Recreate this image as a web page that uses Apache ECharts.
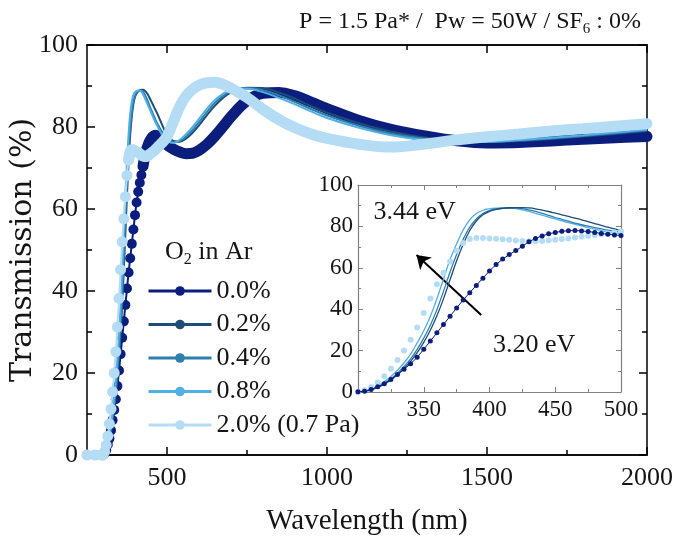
<!DOCTYPE html>
<html><head><meta charset="utf-8">
<script src="https://cdn.jsdelivr.net/npm/echarts@6/dist/echarts.min.js"></script>
<style>html,body{margin:0;padding:0;background:#fff}#c{width:679px;height:539px}</style>
</head><body><div id="c"></div>
<script>
// ---- data ----
const wavelength = [250,275,295,
 300,305,310,315,320,325,330,335,340,345,350,355,360,365,370,375,380,385,390,395,
 400,405,410,415,420,425,430,435,440,445,450,455,460,465,470,475,480,485,490,495,500,
 520,540,560,580,600,625,650,675,700,750,800,850,900,950,1000,1100,1200,1300,1400,1500,1600,1700,1800,1900,2000];

const o2_00 = [0,0,0,
 0.1,0.4,1.2,2.5,4.0,6.0,8.5,11.0,13.6,16.8,20.6,24.6,28.6,32.6,36.6,40.6,44.5,48.0,51.5,55.0,
 58.5,61.6,64.2,66.4,68.3,70.4,72.6,74.2,75.4,76.4,77.1,77.6,77.9,78.0,77.8,77.5,77.1,76.6,76.2,75.9,75.6,
 74.6,73.9,73.5,73.6,74.3,75.8,77.8,80.1,82.5,86.4,88.2,88.4,87.6,86.1,84.5,81.6,79.4,77.9,76.7,76.1,76.2,76.6,77.0,77.4,77.7];

const o2_02 = [0,0,0,
 0,0.3,1.0,2.2,3.8,5.8,8.3,11.3,14.8,19.0,24.0,29.8,36.8,45.0,54.2,63.4,71.4,78.0,82.6,85.6,
 87.3,88.2,88.7,89.0,89.1,89.1,88.9,88.5,87.9,87.2,86.4,85.6,84.8,84.0,83.2,82.3,81.4,80.5,79.6,78.8,78.0,
 76.6,76.4,77.2,78.6,80.4,82.9,85.2,87.1,88.4,89.6,89.5,88.4,86.9,85.1,83.5,80.9,78.9,77.5,76.7,76.4,76.6,77.1,77.7,78.3,79.0];

const o2_04 = [0,0,0,
 0,0.4,1.2,2.5,4.2,6.4,9.1,12.3,16.0,20.6,26.0,32.2,39.8,48.6,58.0,66.4,73.8,79.6,83.6,86.2,
 87.6,88.4,88.8,88.9,88.9,88.6,88.0,87.2,86.3,85.3,84.3,83.4,82.5,81.6,80.8,80.1,79.4,78.8,78.2,77.7,77.3,
 76.3,76.6,77.7,79.3,81.2,83.7,85.9,87.6,88.7,89.5,89.0,87.7,86.1,84.4,82.8,80.3,78.4,77.2,76.6,76.4,76.7,77.2,77.8,78.5,79.2];

const o2_08 = [0,0,0,
 0,0.5,1.5,3.0,5.0,7.5,10.5,14.0,18.3,23.7,29.6,36.5,45.0,54.6,64.0,71.5,78.3,83.2,86.2,87.8,
 88.5,88.8,88.9,88.9,88.6,88.0,87.2,86.3,85.4,84.5,83.6,82.7,81.8,81.0,80.2,79.4,78.7,78.0,77.4,76.9,76.5,
 76.1,76.9,78.3,80.0,82.0,84.5,86.6,88.1,89.0,89.3,88.5,87.1,85.5,83.8,82.2,79.8,78.0,76.9,76.4,76.4,76.8,77.4,78.0,78.7,79.4];

const o2_20 = [0,0,0,
 0,0.8,2.4,4.6,7.6,11.2,15.4,20.0,25.2,31.2,38.2,45.2,52.0,57.6,63.0,68.2,72.0,73.9,74.4,74.4,
 74.2,74.0,73.8,73.5,73.2,72.9,72.8,72.8,73.0,73.3,73.6,73.9,74.2,74.6,75.0,75.4,75.8,76.2,76.6,77.1,77.6,
 81.3,85.0,87.6,89.2,90.2,90.8,90.9,90.4,89.5,87.2,84.3,81.8,79.8,78.3,77.2,75.8,75.1,75.8,76.8,77.6,78.3,79.0,79.6,80.2,80.8];

const seriesNames = ['0.0%','0.2%','0.4%','0.8%','2.0% (0.7 Pa)'];
const mainXLabels = [500,1000,1500,2000];
const mainXMinor = [750,1250,1750];
const colors = ['#0b1e7e','#1e4d78','#2e7fae','#52afe6','#b5dcf5'];

// ---- helpers ----
function pairs(vals, lo, hi){
  return wavelength.map((w,i)=>[w, vals[i]]).filter(p=>p[0]>=lo && p[0]<=hi);
}
const SERIF = 'Liberation Serif';
const txt = '#151515';
const plain = v => String(v);

const mainAxisLine = {show:true, onZero:false, lineStyle:{color:'#000', width:1.5}};
const insetAxisLine = {show:true, onZero:false, lineStyle:{color:'#808080', width:1.2}};

function mainX(pos, custom, len, labels){
  return {type:'value', gridIndex:0, position:pos, min:250, max:2000,
    axisLine: mainAxisLine,
    axisTick:{show:true, inside:true, length:len, customValues:custom, lineStyle:{color:'#000', width:1.5}},
    axisLabel: labels ? {show:true, customValues:custom, formatter:plain, margin:10, fontFamily:SERIF, fontSize:26, color:txt} : {show:false},
    splitLine:{show:false}};
}
function mainY(pos, labels){
  return {type:'value', gridIndex:0, position:pos, min:0, max:100, interval:20,
    axisLine: mainAxisLine,
    axisTick:{show:true, inside:true, length:8, lineStyle:{color:'#000', width:1.5}},
    minorTick:{show:true, splitNumber:2, length:5, lineStyle:{color:'#000', width:1.5}},
    axisLabel: labels ? {show:true, formatter:plain, margin:9, fontFamily:SERIF, fontSize:26, color:txt} : {show:false},
    splitLine:{show:false}, minorSplitLine:{show:false}};
}
function insetX(pos, labels){
  return {type:'value', gridIndex:1, position:pos, min:300, max:500, interval:50,
    axisLine: insetAxisLine,
    axisTick:{show:true, inside:true, length:5, lineStyle:{color:'#808080'}},
    minorTick:{show:true, splitNumber:2, length:3, lineStyle:{color:'#808080'}},
    axisLabel: labels ? {show:true, showMinLabel:false, formatter:plain, margin:6, fontFamily:SERIF, fontSize:23, color:txt} : {show:false},
    splitLine:{show:false}, minorSplitLine:{show:false}};
}
function insetY(pos, labels){
  return {type:'value', gridIndex:1, position:pos, min:0, max:100, interval:20,
    axisLine: insetAxisLine,
    axisTick:{show:true, inside:true, length:5, lineStyle:{color:'#808080'}},
    minorTick:{show:true, splitNumber:2, length:3, lineStyle:{color:'#808080'}},
    axisLabel: labels ? {show:true, formatter:plain, margin:5, fontFamily:SERIF, fontSize:23, color:txt} : {show:false},
    splitLine:{show:false}, minorSplitLine:{show:false}};
}

const xAxis = [
  Object.assign(mainX('bottom', mainXLabels, 8, true), {name:'Wavelength (nm)', nameLocation:'middle', nameGap:52,
     nameTextStyle:{fontFamily:SERIF, fontSize:29, color:txt}}),
  mainX('bottom', mainXMinor, 5, false),
  mainX('top', mainXLabels, 8, false),
  mainX('top', mainXMinor, 5, false),
  insetX('bottom', true),
  insetX('top', false)
];
const yAxis = [
  Object.assign(mainY('left', true), {name:'Transmission (%)', nameLocation:'middle', nameGap:50, nameMoveOverlap:false,
     nameTextStyle:{fontFamily:'DejaVu Serif', fontSize:30, color:txt, lineHeight:27}}),
  mainY('right', false),
  insetY('left', true),
  insetY('right', false)
];

const allVals = [o2_00, o2_02, o2_04, o2_08, o2_20];
const series = [];
// main plot
series.push({name:'_band0', type:'line', xAxisIndex:0, yAxisIndex:0, data:pairs(o2_00,425,2000),
  symbol:'none', smooth:0.4, lineStyle:{color:colors[0], width:11, cap:'round'}, silent:true, z:2});
series.push({name:seriesNames[0], type:'line', xAxisIndex:0, yAxisIndex:0, data:pairs(o2_00,250,440),
  symbol:'circle', symbolSize:10, showSymbol:true, smooth:0.4, itemStyle:{color:colors[0]},
  lineStyle:{color:colors[0], width:2}, silent:true, z:2});
for (let k=1;k<=3;k++){
  series.push({name:seriesNames[k], type:'line', xAxisIndex:0, yAxisIndex:0, data:pairs(allVals[k],250,2000),
    symbol:'none', smooth:0.4, itemStyle:{color:colors[k]}, lineStyle:{color:colors[k], width:2}, silent:true, z:3});
}
series.push({name:'_band4', type:'line', xAxisIndex:0, yAxisIndex:0, data:pairs(o2_20,380,2000),
  symbol:'none', smooth:0.4, lineStyle:{color:colors[4], width:11, cap:'round'}, silent:true, z:4});
series.push({name:seriesNames[4], type:'line', xAxisIndex:0, yAxisIndex:0, data:pairs(o2_20,250,395),
  symbol:'circle', symbolSize:11, showSymbol:true, smooth:0.4, itemStyle:{color:colors[4]},
  lineStyle:{color:colors[4], width:2}, silent:true, z:4});

// inset
series.push({name:seriesNames[4], type:'line', xAxisIndex:4, yAxisIndex:2, data:pairs(o2_20,300,500),
  symbol:'circle', symbolSize:6, showSymbol:true, itemStyle:{color:colors[4]},
  lineStyle:{width:0}, silent:true, z:5});
for (let k=3;k>=1;k--){
  series.push({name:seriesNames[k], type:'line', xAxisIndex:4, yAxisIndex:2, data:pairs(allVals[k],300,500),
    symbol:'none', smooth:0.4, itemStyle:{color:colors[k]}, lineStyle:{color:colors[k], width:1.3}, silent:true, z:5});
}
series.push({name:seriesNames[0], type:'line', xAxisIndex:4, yAxisIndex:2, data:pairs(o2_00,300,500),
  symbol:'circle', symbolSize:5, showSymbol:true, itemStyle:{color:colors[0]},
  lineStyle:{color:colors[0], width:1}, silent:true, z:6,
  markLine:{silent:true, symbol:['none','arrow'], symbolSize:13, animation:false,
    label:{show:false}, lineStyle:{color:'#000', width:2, type:'solid'},
    data:[[{coord:[393.7,37.2]},{coord:[344.5,66.2]}]]},
  markPoint:{silent:true, symbol:'circle', symbolSize:1, itemStyle:{color:'rgba(0,0,0,0)'}, animation:false,
    label:{show:true, position:'inside', formatter:'{b}', fontFamily:SERIF, fontSize:26, color:txt},
    data:[{name:'3.44 eV', coord:[343,87]},{name:'3.20 eV', coord:[434,22.7]}]}
});

const option = {
  animation:false,
  backgroundColor:'#fff',
  title:[
    {text:'P = 1.5 Pa* /  Pw = 50W / SF{s|6} : 0%', right:38, top:7, padding:0,
     textStyle:{fontFamily:SERIF, fontSize:24, fontWeight:'normal', color:txt, lineHeight:30,
       rich:{s:{fontFamily:SERIF, fontSize:15, verticalAlign:'bottom', lineHeight:30, color:txt}}}},
    {text:'O{s|2} in Ar', left:165, top:236, padding:0,
     textStyle:{fontFamily:SERIF, fontSize:26, fontWeight:'normal', color:txt, lineHeight:30,
       rich:{s:{fontFamily:SERIF, fontSize:16, verticalAlign:'bottom', lineHeight:32, color:txt}}}}
  ],
  legend:{
    data:seriesNames, orient:'vertical', left:147, top:277, padding:0,
    itemWidth:63, itemHeight:12, itemGap:5.5, selectedMode:false,
    lineStyle:{width:3},
    textStyle:{fontFamily:SERIF, fontSize:26, color:txt, lineHeight:28}
  },
  grid:[
    {left:87, top:45, right:32, bottom:84, outerBoundsMode:'none', containLabel:false},
    {left:358, top:185, width:263, height:207, outerBoundsMode:'none', containLabel:false, show:true, backgroundColor:'#fff', borderWidth:0}
  ],
  xAxis, yAxis, series
};
const chart = echarts.init(document.getElementById('c'), null, {renderer:'canvas'});
chart.setOption(option);
</script>
</body></html>
